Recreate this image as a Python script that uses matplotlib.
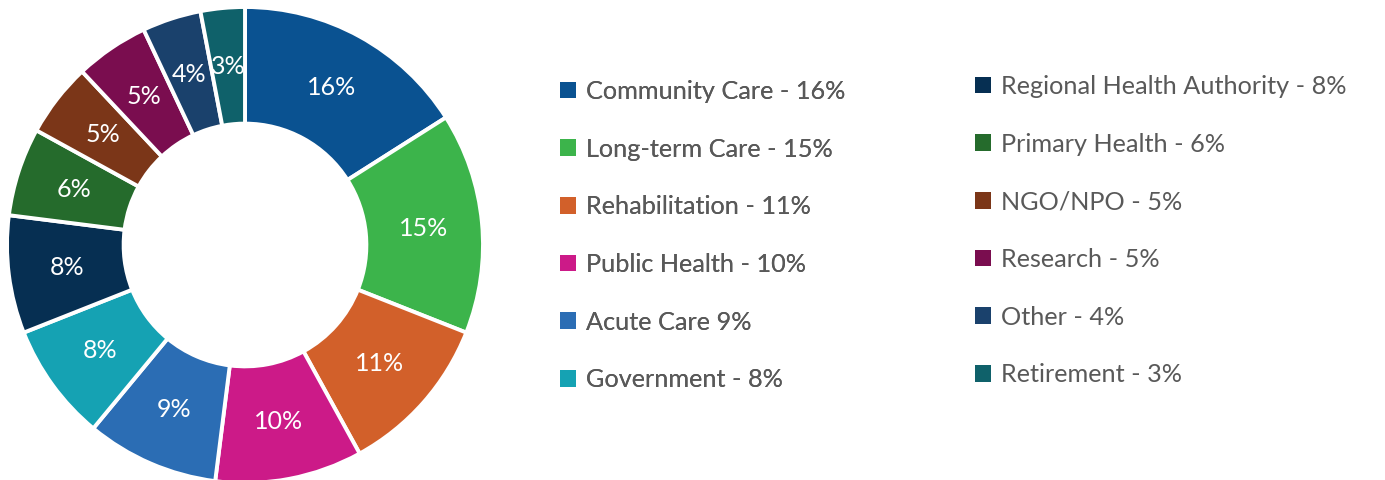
import matplotlib
matplotlib.use("Agg")
from matplotlib import pyplot as plt

categories = ['Community Care', 'Long-term Care', 'Rehabilitation', 'Public Health',
              'Acute Care', 'Government', 'Regional Health Authority', 'Primary Health',
              'NGO/NPO', 'Research', 'Other', 'Retirement']
shares = [16, 15, 11, 10, 9, 8, 8, 6, 5, 5, 4, 3]
legend_labels = ['Community Care - 16%', 'Long-term Care - 15%', 'Rehabilitation - 11%',
                 'Public Health - 10%', 'Acute Care 9%', 'Government - 8%',
                 'Regional Health Authority - 8%', 'Primary Health - 6%', 'NGO/NPO - 5%',
                 'Research - 5%', 'Other - 4%', 'Retirement - 3%']
colors = ['#0A5291', '#3CB44B', '#D2602A', '#CC1A88', '#2B6DB4', '#15A2B3',
          '#062F52', '#256B2C', '#7B3618', '#7A0D4F', '#1A416C', '#0F616A']

plt.rcParams['font.family'] = ['Lato', 'DejaVu Sans']

W, H = 1385, 480
fig = plt.figure(figsize=(W / 100, H / 100), dpi=100)

# square axes centred on the donut (centre ~ (245, 245) px)
size = 480
ax = fig.add_axes([(245 - size / 2) / W, (H - 245 - size / 2) / H, size / W, size / H])

radius = 238 / 240
wedges, texts, autotexts = ax.pie(
    shares, colors=colors, startangle=90, counterclock=False, radius=radius,
    autopct='%d%%', pctdistance=0.755,
    wedgeprops=dict(width=radius * 0.49, edgecolor='white', linewidth=2.8),
    textprops=dict(color='white', fontsize=18))
ax.set_xlim(-1, 1)
ax.set_ylim(-1, 1)
ax.axis('off')

# two one-column legends
fs = 18.2
common = dict(loc='upper left', frameon=False, fontsize=fs, handlelength=0.63,
              handleheight=0.63, handletextpad=0.4, labelspacing=1.37, borderpad=0,
              borderaxespad=0, labelcolor='#595959')
leg1 = fig.legend(wedges[:6], legend_labels[:6],
                  bbox_to_anchor=(560 / W, 1 - 80 / H), **common)
for h in leg1.legend_handles:
    h.set_edgecolor('none')
fig.add_artist(leg1)
leg2 = fig.legend(wedges[6:], legend_labels[6:],
                  bbox_to_anchor=(975 / W, 1 - 75 / H), **common)
for h in leg2.legend_handles:
    h.set_edgecolor('none')

fig.savefig('out.png', dpi=100)
